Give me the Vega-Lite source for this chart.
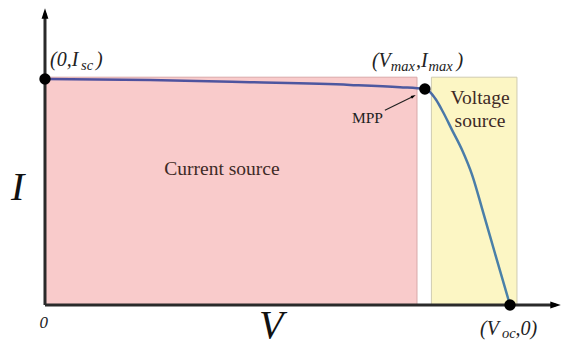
{
  "$schema": "https://vega.github.io/schema/vega-lite/v6.json",
  "width": 569,
  "height": 347,
  "autosize": "none",
  "padding": 0,
  "background": "white",
  "config": {"view": {"stroke": null}, "text": {"font": "'Liberation Serif', 'Times New Roman', serif"}},
  "datasets": {
    "regions": [
      {"name": "current", "v0": 0, "v1": 16.0, "i0": 0, "i1": 5.04},
      {"name": "voltage", "v0": 16.62, "v1": 20.3, "i0": 0, "i1": 5.04}
    ],
    "iv": [
      {"V": 0, "I": 5.0},
      {"V": 4.52, "I": 4.98},
      {"V": 8.82, "I": 4.93},
      {"V": 13.12, "I": 4.87},
      {"V": 15.27, "I": 4.82},
      {"V": 16.34, "I": 4.78},
      {"V": 16.56, "I": 4.71},
      {"V": 16.82, "I": 4.54},
      {"V": 17.12, "I": 4.27},
      {"V": 17.51, "I": 3.87},
      {"V": 17.94, "I": 3.43},
      {"V": 18.37, "I": 2.88},
      {"V": 18.84, "I": 2.06},
      {"V": 19.35, "I": 1.15},
      {"V": 20.0, "I": 0}
    ],
    "keypoints": [
      {"V": 0, "I": 5.0},
      {"V": 16.34, "I": 4.78},
      {"V": 20.0, "I": 0}
    ]
  },
  "encoding": {
    "x": {"type": "quantitative", "scale": {"domain": [-1.935, 22.538], "nice": false, "zero": false}, "axis": null},
    "y": {"type": "quantitative", "scale": {"domain": [-0.929, 6.748], "nice": false, "zero": false}, "axis": null}
  },
  "layer": [
    {
      "data": {"name": "regions"},
      "mark": {"type": "rect", "strokeWidth": 1},
      "encoding": {
        "x": {"field": "v0"},
        "x2": {"field": "v1"},
        "y": {"field": "i0"},
        "y2": {"field": "i1"},
        "fill": {"field": "name", "type": "nominal", "scale": {"domain": ["current", "voltage"], "range": ["#f9cbcb", "#fcf6c4"]}, "legend": null},
        "stroke": {"field": "name", "type": "nominal", "scale": {"domain": ["current", "voltage"], "range": ["#d9a9a9", "#cfcbb0"]}, "legend": null}
      }
    },
    {
      "data": {"values": [{"V": 0, "I": 0, "V2": 21.96, "I2": 0}, {"V": 0, "I": 0, "V2": 0, "I2": 6.45}]},
      "mark": {"type": "rule", "color": "#2a2a2a", "strokeWidth": 3},
      "encoding": {"x": {"field": "V"}, "y": {"field": "I"}, "x2": {"field": "V2"}, "y2": {"field": "I2"}}
    },
    {
      "data": {"values": [{"V": 0, "I": 6.45}]},
      "mark": {"type": "point", "shape": "M0,-1L0.65,1L-0.65,1Z", "size": 110, "filled": true, "color": "black", "opacity": 1},
      "encoding": {"x": {"field": "V"}, "y": {"field": "I"}}
    },
    {
      "data": {"values": [{"V": 21.96, "I": 0}]},
      "mark": {"type": "point", "shape": "M1,0L-1,0.65L-1,-0.65Z", "size": 110, "filled": true, "color": "black", "opacity": 1},
      "encoding": {"x": {"field": "V"}, "y": {"field": "I"}}
    },
    {
      "data": {"name": "iv"},
      "mark": {
        "type": "line",
        "interpolate": "monotone",
        "strokeWidth": 2.5,
        "color": {
          "gradient": "linear",
          "x1": 0, "y1": 0, "x2": 1, "y2": 0,
          "stops": [
            {"offset": 0, "color": "#4f4f9e"},
            {"offset": 0.8, "color": "#4d5aa0"},
            {"offset": 0.86, "color": "#4a7aa8"},
            {"offset": 1, "color": "#4a82a8"}
          ]
        }
      },
      "encoding": {"x": {"field": "V"}, "y": {"field": "I"}}
    },
    {
      "data": {"values": [{"V": 14.62, "I": 4.31, "V2": 15.85, "I2": 4.62}]},
      "mark": {"type": "rule", "color": "#222222", "strokeWidth": 1.2},
      "encoding": {"x": {"field": "V"}, "y": {"field": "I"}, "x2": {"field": "V2"}, "y2": {"field": "I2"}}
    },
    {
      "data": {"values": [{"V": 15.85, "I": 4.62}]},
      "mark": {"type": "point", "shape": "M1,0L-1,0.6L-1,-0.6Z", "size": 25, "angle": -26, "filled": true, "color": "black", "opacity": 1},
      "encoding": {"x": {"field": "V"}, "y": {"field": "I"}}
    },
    {
      "data": {"name": "keypoints"},
      "mark": {"type": "circle", "size": 130, "color": "black", "opacity": 1},
      "encoding": {"x": {"field": "V"}, "y": {"field": "I"}}
    },
    {
      "data": {"values": [
        {"V": 0.215, "I": 5.29, "label": "(0,I"},
        {"V": 2.19, "I": 5.29, "label": ")"},
        {"V": 14.06, "I": 5.26, "label": "(V"},
        {"V": 15.96, "I": 5.26, "label": ",I"},
        {"V": 17.7, "I": 5.26, "label": ")"},
        {"V": 18.71, "I": -0.66, "label": "(V"},
        {"V": 20.24, "I": -0.66, "label": ",0)"}
      ]},
      "mark": {"type": "text", "fontStyle": "italic", "fontSize": 20, "align": "left", "baseline": "alphabetic", "color": "#222222"},
      "encoding": {"x": {"field": "V"}, "y": {"field": "I"}, "text": {"field": "label"}}
    },
    {
      "data": {"values": [
        {"V": 14.87, "I": 5.18, "label": "max"},
        {"V": 16.5, "I": 5.18, "label": "max"},
        {"V": 1.55, "I": 5.2, "label": "sc"},
        {"V": 19.66, "I": -0.73, "label": "oc"}
      ]},
      "mark": {"type": "text", "fontStyle": "italic", "fontSize": 14.5, "align": "left", "baseline": "alphabetic", "color": "#222222"},
      "encoding": {"x": {"field": "V"}, "y": {"field": "I"}, "text": {"field": "label"}}
    },
    {
      "data": {"values": [
        {"V": -0.24, "I": -0.51, "label": "0"}
      ]},
      "mark": {"type": "text", "fontStyle": "italic", "fontSize": 17, "align": "left", "baseline": "alphabetic", "color": "#222222"},
      "encoding": {"x": {"field": "V"}, "y": {"field": "I"}, "text": {"field": "label"}}
    },
    {
      "data": {"values": [
        {"V": -1.46, "I": 2.32, "label": "I"},
        {"V": 9.2, "I": -0.74, "label": "V"}
      ]},
      "mark": {"type": "text", "fontStyle": "italic", "fontSize": 40, "align": "left", "baseline": "alphabetic", "color": "#111111"},
      "encoding": {"x": {"field": "V"}, "y": {"field": "I"}, "text": {"field": "label"}}
    },
    {
      "data": {"values": [
        {"V": 7.61, "I": 2.88, "label": "Current source"},
        {"V": 18.71, "I": 4.45, "label": "Voltage"},
        {"V": 18.71, "I": 3.94, "label": "source"}
      ]},
      "mark": {"type": "text", "fontSize": 19.5, "align": "center", "baseline": "alphabetic", "color": "#3e2a26"},
      "encoding": {"x": {"field": "V"}, "y": {"field": "I"}, "text": {"field": "label"}}
    },
    {
      "data": {"values": [
        {"V": 13.87, "I": 4.03, "label": "MPP"}
      ]},
      "mark": {"type": "text", "fontSize": 15.5, "align": "center", "baseline": "alphabetic", "color": "#222222"},
      "encoding": {"x": {"field": "V"}, "y": {"field": "I"}, "text": {"field": "label"}}
    }
  ]
}
